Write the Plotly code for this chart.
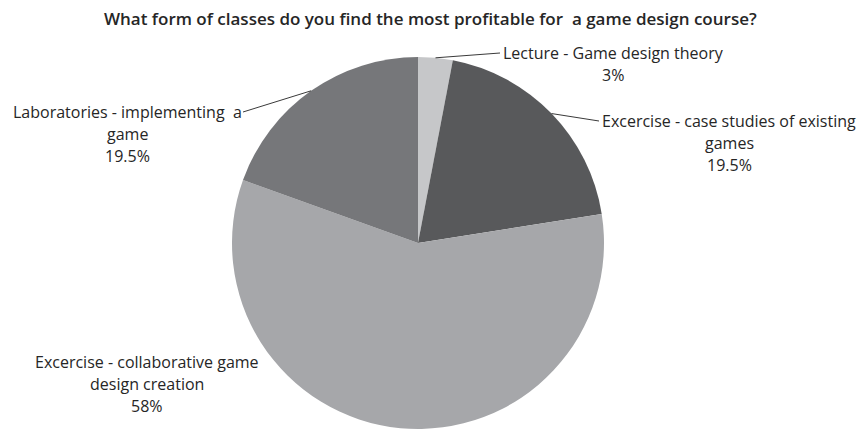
import math
import plotly.graph_objects as go

# Survey answers
labels = [
    "Lecture - Game design theory",
    "Excercise - case studies of existing games",
    "Excercise - collaborative game design creation",
    "Laboratories - implementing a game",
]
label_lines = [
    ["Lecture - Game design theory"],
    ["Excercise - case studies of existing", "games"],
    ["Excercise - collaborative game", "design creation"],
    ["Laboratories - implementing  a", "game"],
]
values = [3, 19.5, 58, 19.5]
pct_text = ["3%", "19.5%", "58%", "19.5%"]
colors = ["#c6c7c9", "#58595b", "#a6a7aa", "#76777a"]

W, H = 858, 431
CX, CY, R = 418, 243, 186  # pie centre and radius, pixels from top-left

# label block placement (centre x, first-line y) in pixels, and whether a leader line is drawn
label_pos = [(613, 53, True), (729, 121, True), (147, 362, False), (127, 112, True)]
leader_end = [(500, 53), (599, 121), None, (243, 112)]

FONT = "Open Sans"
TEXT_COLOR = "#262626"
LINE_H = 22


def px(x, y):
    return x / W, 1 - y / H


fig = go.Figure(
    go.Pie(
        labels=labels,
        values=values,
        sort=False,
        direction="clockwise",
        rotation=0,
        marker=dict(colors=colors, line=dict(width=0)),
        textinfo="none",
        hoverinfo="label+percent",
        showlegend=False,
        domain=dict(x=[(CX - R) / W, (CX + R) / W], y=[1 - (CY + R) / H, 1 - (CY - R) / H]),
    )
)

annotations = []
shapes = []
total = sum(values)
cum = 0.0
for i, v in enumerate(values):
    mid = (cum + v / 2) / total * 2 * math.pi
    cum += v
    cx, cy, has_line = label_pos[i]
    lines = label_lines[i] + [pct_text[i]]
    for k, t in enumerate(lines):
        x, y = px(cx, cy + k * LINE_H)
        annotations.append(
            dict(
                x=x, y=y, xref="paper", yref="paper", text=t, showarrow=False,
                xanchor="center", yanchor="middle",
                font=dict(family=FONT, size=16, color=TEXT_COLOR),
            )
        )
    if has_line:
        ax = CX + R * math.sin(mid)
        ay = CY - R * math.cos(mid)
        ex, ey = leader_end[i]
        x0, y0 = px(ax, ay)
        x1, y1 = px(ex, ey)
        shapes.append(
            dict(type="line", xref="paper", yref="paper", x0=x0, y0=y0, x1=x1, y1=y1,
                 line=dict(color="#3a3a3a", width=1))
        )

tx, ty = px(430, 18)
annotations.append(
    dict(
        x=tx, y=ty, xref="paper", yref="paper",
        text="What form of classes do you find the most profitable for  a game design course?",
        showarrow=False, xanchor="center", yanchor="middle",
        font=dict(family=FONT, size=17, color=TEXT_COLOR, weight=600),
    )
)

fig.update_layout(
    width=W, height=H,
    margin=dict(l=0, r=0, t=0, b=0),
    paper_bgcolor="white", plot_bgcolor="white",
    annotations=annotations, shapes=shapes,
)

fig.write_html("out.html")
